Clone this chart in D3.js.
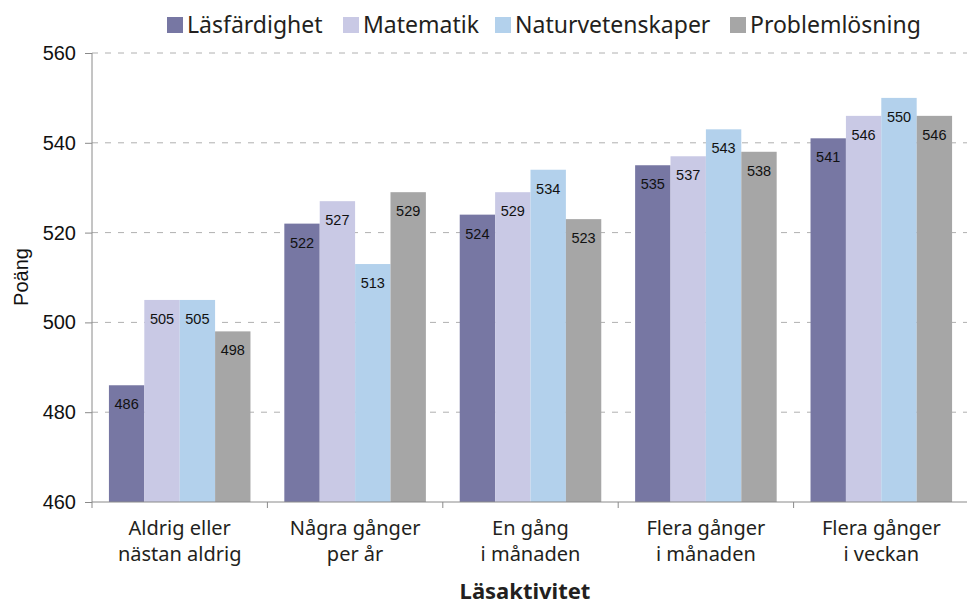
<!DOCTYPE html>
<html><head><meta charset="utf-8">
<script src="https://cdn.jsdelivr.net/npm/d3@7"></script>
<style>body{margin:0;background:#fff}</style>
</head><body><svg id="c" width="967" height="604"></svg>
<script>
const categories = [["Aldrig eller","nästan aldrig"],["Några gånger","per år"],["En gång","i månaden"],["Flera gånger","i månaden"],["Flera gånger","i veckan"]];
const seriesNames = ["Läsfärdighet","Matematik","Naturvetenskaper","Problemlösning"];
const lasfardighet = [486,522,524,535,541];
const matematik = [505,527,529,537,546];
const naturvetenskaper = [505,513,534,543,550];
const problemlosning = [498,529,523,538,546];
const yTicks = [460,480,500,520,540,560];
const colors = ["#7777a3","#c9c9e5","#b3d1ec","#a6a6a6"];
const values = [lasfardighet, matematik, naturvetenskaper, problemlosning];

const svg = d3.select("#c");
const pL = 92, pR = 969, pT = 53, pB = 502;
const humanist = "'Noto Sans','Open Sans',sans-serif";
const arial = "Arial,'Liberation Sans',sans-serif";

const y = d3.scaleLinear().domain([460,560]).range([pB, pT]);
const x0 = d3.scaleBand().domain(d3.range(categories.length)).range([pL, pR]).paddingInner(0.193).paddingOuter(0.0965);
const x1 = d3.scaleBand().domain(d3.range(seriesNames.length)).range([0, x0.bandwidth()]);

// gridlines
svg.append("g").selectAll("line").data(yTicks.filter(t=>t>460)).join("line")
  .attr("x1", pL).attr("x2", pR).attr("y1", d=>y(d)).attr("y2", d=>y(d))
  .attr("stroke","#b0b0b0").attr("stroke-width",1).attr("stroke-dasharray","6,7");

// bars
const groups = svg.append("g").selectAll("g").data(categories).join("g")
  .attr("transform",(d,i)=>`translate(${x0(i)},0)`);
groups.each(function(c,i){
  const g = d3.select(this);
  values.forEach((vals,s)=>{
    g.append("rect").attr("x", x1(s)).attr("width", x1.bandwidth())
      .attr("y", y(vals[i])).attr("height", pB - y(vals[i])).attr("fill", colors[s]);
    g.append("text").attr("x", x1(s)+x1.bandwidth()/2).attr("y", y(vals[i])+24)
      .attr("text-anchor","middle").attr("font-family",arial)
      .attr("font-size",14.5).attr("fill","#111").text(vals[i]);
  });
});

// y axis
const yAxis = svg.append("g").attr("transform",`translate(${pL},0)`)
  .call(d3.axisLeft(y).tickValues(yTicks).tickSize(7).tickPadding(9).tickFormat(d3.format("d")));
yAxis.select(".domain").attr("stroke","#8a8a8a").attr("d",`M0,${pT}V${pB}`);
yAxis.selectAll(".tick line").attr("stroke","#8a8a8a");
yAxis.selectAll("text").attr("font-family",arial).attr("font-size",20).attr("fill","#111");

// x axis line + boundary ticks
svg.append("line").attr("x1",pL).attr("x2",pR).attr("y1",pB).attr("y2",pB).attr("stroke","#8a8a8a");
const step = x0.step();
svg.append("g").selectAll("line").data(d3.range(categories.length+1)).join("line")
  .attr("x1",d=>pL+d*step).attr("x2",d=>pL+d*step).attr("y1",pB).attr("y2",pB+6).attr("stroke","#8a8a8a");

// x labels
const xl = svg.append("g").selectAll("text").data(categories).join("text")
  .attr("text-anchor","middle").attr("font-family",humanist).attr("font-size",20).attr("fill","#231f20")
  .attr("transform",(d,i)=>`translate(${x0(i)+x0.bandwidth()/2},0)`);
xl.each(function(d){
  const t = d3.select(this);
  d.forEach((line,k)=>t.append("tspan").attr("x",0).attr("y",535+k*26).text(line));
});

// axis titles
svg.append("text").attr("x",525).attr("y",599).attr("text-anchor","middle")
  .attr("font-family",humanist).attr("font-weight","bold").attr("font-size",22).attr("fill","#231f20").text("Läsaktivitet");
svg.append("text").attr("transform","translate(28,277) rotate(-90)").attr("text-anchor","middle")
  .attr("font-family",arial).attr("font-size",20).attr("fill","#111").text("Poäng");

// legend
const legX = [167,343,495,730];
const leg = svg.append("g").selectAll("g").data(seriesNames).join("g")
  .attr("transform",(d,i)=>`translate(${legX[i]},0)`);
leg.append("rect").attr("x",0).attr("y",17).attr("width",16).attr("height",16).attr("fill",(d,i)=>colors[i]);
leg.append("text").attr("x",20).attr("y",33).attr("font-family",humanist).attr("font-size",23).attr("fill","#231f20").text(d=>d);
</script></body></html>
